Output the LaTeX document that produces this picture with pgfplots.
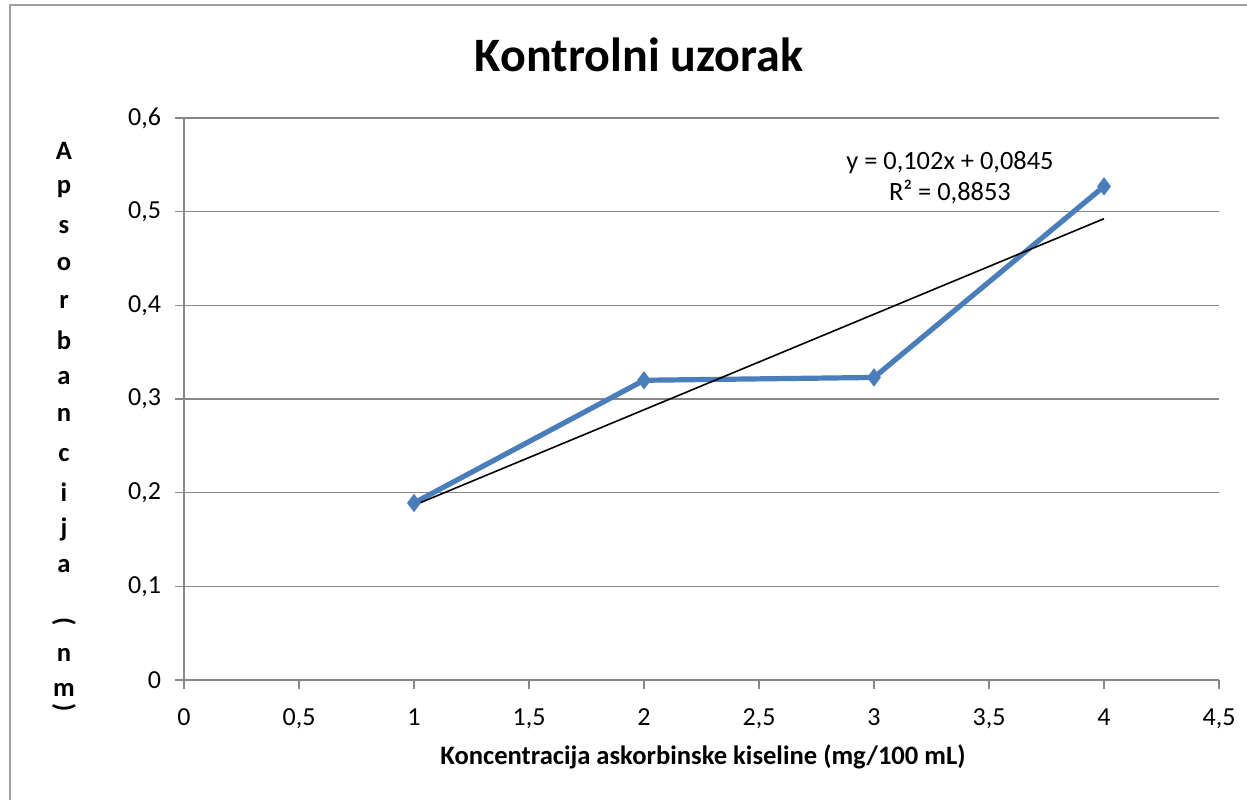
\documentclass[border=0pt]{standalone}
\usepackage{pgfplots}
\pgfplotsset{compat=1.18}
\usepackage{fontspec}
\setmainfont{Carlito}
\definecolor{serblue}{HTML}{4A7EBB}
\definecolor{gridgray}{HTML}{878787}
\begin{document}
\begin{tikzpicture}
\begin{axis}[
  at={(0,0)}, anchor=south west,
  scale only axis,
  width=517.5bp, height=281bp,
  xmin=0, xmax=4.5, ymin=0, ymax=0.6,
  xtick={0,0.5,...,4.5},
  ytick={0,0.1,...,0.6},
  axis x line*=bottom, axis y line*=left,
  axis line style={gridgray, line width=0.75bp},
  ymajorgrids, grid style={gridgray, line width=0.75bp},
  tick align=outside, major tick length=4.5bp,
  tick style={gridgray, line width=0.75bp},
  /pgf/number format/.cd, use comma, fixed, precision=1, assume math mode=true,
  /pgfplots/.cd,
  ticklabel style={font=\fontsize{13bp}{15bp}\selectfont},
  xticklabel style={yshift=-6.5bp},
  yticklabel style={xshift=-3.5bp},
  clip=false,
]
\addplot[serblue, line width=2.6bp, mark=diamond*, mark size=4.2bp, mark options={fill=serblue, draw=serblue, line width=0.5bp}]
  coordinates {(1,0.189) (2,0.320) (3,0.323) (4,0.527)};
\addplot[black, line width=0.8bp]
  coordinates {(1,0.1865) (4,0.4925)};
\node[align=center, font=\fontsize{13.2bp}{15.5bp}\selectfont] at (axis cs:3.33,0.5365) {y = 0,102x + 0,0845\\R² = 0,8853};
\end{axis}
% title
\node[font=\fontsize{24bp}{28bp}\selectfont\bfseries, anchor=base] at (227.5bp,304bp) {Kontrolni uzorak};
% x label
\node[font=\fontsize{13.3bp}{15bp}\selectfont\bfseries] at (259.5bp,-38.5bp) {Koncentracija askorbinske kiseline (mg/100 mL)};
% stacked y label
\foreach \ch/\yy in {A/264.5, p/245.5, s/226.5, o/208, r/189, b/170, a/151, n/132.5, c/112.5, i/94, j/75.5, a/57, n/12.5, m/-5} {
  \node[font=\fontsize{13.3bp}{15bp}\selectfont\bfseries] at (-60bp,\yy bp) {\ch};
}
\node[font=\fontsize{13.3bp}{15bp}\selectfont\bfseries] at (-60bp,29bp) {\rotatebox{-90}{(}};
\node[font=\fontsize{13.3bp}{15bp}\selectfont\bfseries] at (-60bp,-14bp) {\rotatebox{-90}{)}};
% border
\draw[gray!75, line width=0.75bp] (-87bp,-60bp) -- (-87bp,337.5bp) -- (531.5bp,337.5bp);
\pgfresetboundingbox
\path (-92bp,-60bp) rectangle (531.5bp,340bp);
\end{tikzpicture}
\end{document}
